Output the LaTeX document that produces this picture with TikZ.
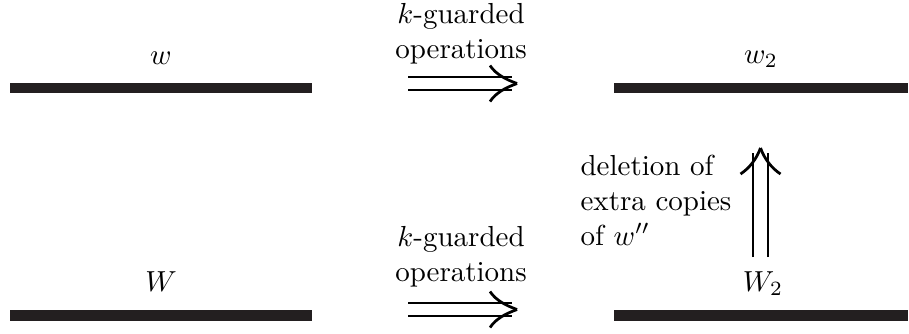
\documentclass[tikz,border=0pt]{standalone}
\usetikzlibrary{calc}
\definecolor{barcol}{RGB}{35,31,32}
\begin{document}
\begin{tikzpicture}[x=0.345pt,y=-0.345pt,
  bar/.style={fill=barcol,draw=none,inner sep=0pt,minimum height=3.7pt},
  lbl/.style={anchor=base,inner sep=0pt},
  txt/.style={align=center,anchor=base,inner sep=0pt},
  arr/.style={line width=0.95pt,black}]
\useasboundingbox (0,0) rectangle (909,333);
% bars
\node[bar,minimum width=104.2pt] (b1) at (161,88) {};
\node[bar,minimum width=101.4pt] (b2) at (761,88) {};
\node[bar,minimum width=104.2pt] (b3) at (161,315.5) {};
\node[bar,minimum width=101.4pt] (b4) at (761,315.5) {};
% labels
\node[lbl] (lw) at (161,64) {$w$};
\node[lbl] (lw2) at (761,63) {$w_2$};
\node[lbl] (lW) at (161,291) {$W$};
\node[lbl] (lW2) at (763,291) {$W_2$};
% texts
\node[txt] (t1) at (461,58) {$k$-guarded\\operations};
\node[txt] (t2) at (461,281) {$k$-guarded\\operations};
\node[align=left,anchor=base west,inner sep=0pt] (t3) at (580,245) {deletion of\\extra copies\\of $w''$};
% top arrow
\coordinate (a1s) at (408,83.5);
\coordinate (a1e) at (517,83.5);
\draw[arr] (a1s) ++(0,-6.5) -- ++(104,0);
\draw[arr] (a1s) ++(0,6.5) -- ++(104,0);
\draw[arr] (a1e) .. controls +(-11,-4) and +(6,9) .. +(-27,-18);
\draw[arr] (a1e) .. controls +(-11,4) and +(6,-9) .. +(-27,18);
% bottom arrow
\coordinate (a2s) at (408,309.5);
\coordinate (a2e) at (517,309.5);
\draw[arr] (a2s) ++(0,-6.5) -- ++(104,0);
\draw[arr] (a2s) ++(0,6.5) -- ++(104,0);
\draw[arr] (a2e) .. controls +(-11,-4) and +(6,9) .. +(-27,-18);
\draw[arr] (a2e) .. controls +(-11,4) and +(6,-9) .. +(-27,18);
% up arrow
\coordinate (a3s) at (760.5,257);
\coordinate (a3e) at (760.5,148);
\draw[arr] (a3s) ++(-7.5,0) -- ++(0,-104);
\draw[arr] (a3s) ++(7.5,0) -- ++(0,-104);
\draw[arr] (a3e) .. controls +(-4,11) and +(9,-6) .. +(-20,26);
\draw[arr] (a3e) .. controls +(4,11) and +(-9,-6) .. +(20,26);
\end{tikzpicture}
\end{document}
